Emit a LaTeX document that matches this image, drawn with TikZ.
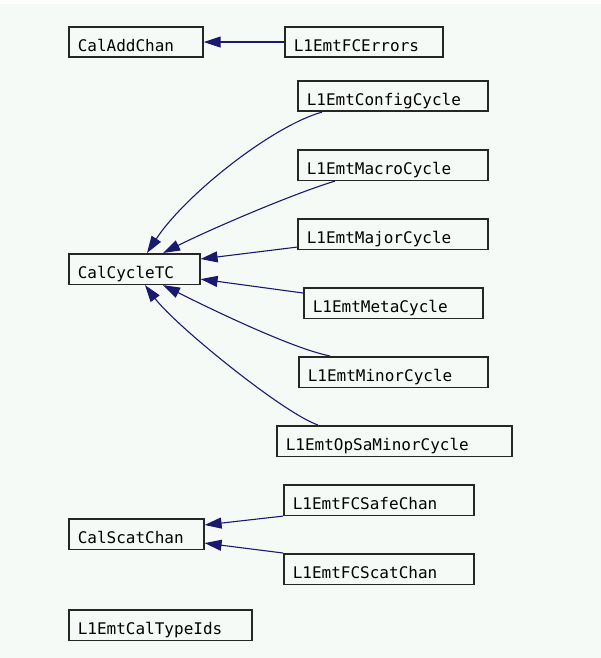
\documentclass[tikz,border=0pt]{standalone}
\usepackage{fontspec}
\newfontfamily\graphfont{DejaVu Sans Mono}
\usetikzlibrary{arrows.meta}
\definecolor{graphbg}{RGB}{245,250,247}
\definecolor{graphedge}{RGB}{25,25,112}
\newcommand{\wdth}{601}
\newcommand{\hght}{658}

\begin{document}
\begin{tikzpicture}[x=1pt,y=-1pt,
    cls/.style={draw=black!85,line width=1.6pt,anchor=north west,inner xsep=9pt,inner ysep=0pt,
        text height=24.5pt,text depth=6pt,align=left,font=\graphfont\fontsize{16}{17}\selectfont},
    inherit/.style={draw=graphedge,line width=1.1pt,-{Triangle[length=17pt,width=11pt]}}]
                    \useasboundingbox (0,0) rectangle (\wdth,\hght);
                    \fill[white] (0,0) rectangle (\wdth,\hght);
                    \fill[graphbg] (0,4) rectangle (\wdth,\hght);
                    % class boxes: name/x/y/text width/label
                    \foreach \nm/\x/\y/\tw/\txt in {calAdd/68/26/116/CalAddChan,
                        fcErr/284/26/140/L1EmtFCErrors,
                        cfg/297/80/172/L1EmtConfigCycle,
                        macro/297/149/172/L1EmtMacroCycle,
                        major/297/218/172/L1EmtMajorCycle,
                        cycTC/68/253/113/CalCycleTC,
                        meta/303/287/161/L1EmtMetaCycle,
                        minor/298/356/171/L1EmtMinorCycle,
                        opsa/276/425/217/L1EmtOpSaMinorCycle,
                        safe/283/484/172/L1EmtFCSafeChan,
                        scat/68/518/117/CalScatChan,
                        fcScat/283/553/172/L1EmtFCScatChan,
                        typeIds/68/609/165/L1EmtCalTypeIds}
                    {
                        \node[cls,text width=\tw pt] (\nm) at (\x,\y) {\txt};
                    }
                    \draw[inherit] (fcErr) -- (calAdd);
                    \draw[inherit] ([xshift=25pt]cfg.south west) .. controls +(-50,14) and +(38,-58) .. ([xshift=79pt]cycTC.north west);
                    \draw[inherit] ([xshift=38pt]macro.south west) .. controls +(-40,12) and +(50,-25) .. ([xshift=95pt]cycTC.north west);
                    \draw[inherit] ([yshift=3pt]major.south west) -- ([yshift=-6pt]cycTC.north east);
                    \draw[inherit] ([yshift=-6pt]meta.north west) -- ([yshift=6pt]cycTC.south east);
                    \draw[inherit] ([xshift=32pt]minor.north west) .. controls +(-40,-8) and +(40,20) .. ([xshift=95pt]cycTC.south west);
                    \draw[inherit] ([xshift=42pt]opsa.north west) .. controls +(-35,-12) and +(30,40) .. ([xshift=77pt]cycTC.south west);
                    \draw[inherit] (safe.south west) -- ([yshift=-7pt]scat.north east);
                    \draw[inherit] (fcScat.north west) -- ([yshift=7pt]scat.south east);
                \end{tikzpicture}
\end{document}
